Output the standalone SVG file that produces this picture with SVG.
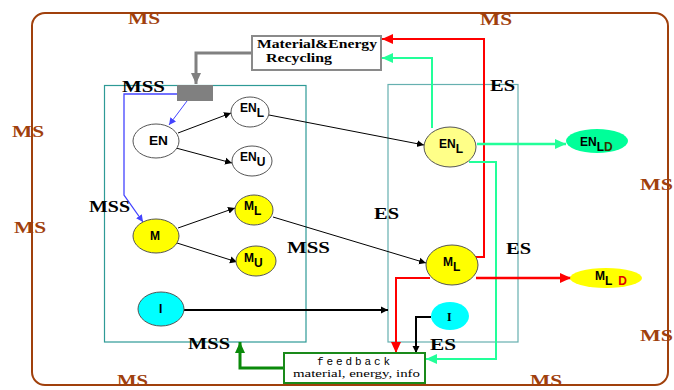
<svg xmlns="http://www.w3.org/2000/svg" width="674" height="390" viewBox="0 0 674 390">
<style>
.ms{font-family:"Liberation Serif",serif;font-weight:bold;font-size:17px;fill:#a0400c}
.lab{font-family:"Liberation Serif",serif;font-weight:bold;font-size:17px;fill:#000}
.nt{font-family:"Liberation Sans",Arial,sans-serif;font-weight:bold;font-size:12px;fill:#000}
.node{stroke:#555;stroke-width:1}
.blk{stroke:#000;stroke-width:1;fill:none}
</style>
<defs>
<marker id="ab" markerWidth="8" markerHeight="8" refX="7" refY="4" orient="auto" markerUnits="userSpaceOnUse"><path d="M0,0.5 L7,4 L0,7.5 Z" fill="#000"/></marker>
<marker id="ar" markerWidth="12" markerHeight="12" refX="11" refY="6" orient="auto" markerUnits="userSpaceOnUse"><path d="M0,1 L11,6 L0,11 Z" fill="#f00"/></marker>
<marker id="ag" markerWidth="12" markerHeight="12" refX="11" refY="6" orient="auto" markerUnits="userSpaceOnUse"><path d="M0,1 L11,6 L0,11 Z" fill="#22ff99"/></marker>
<marker id="adg" markerWidth="12" markerHeight="12" refX="11" refY="6" orient="auto" markerUnits="userSpaceOnUse"><path d="M0,1 L11,6 L0,11 Z" fill="#0a8a0a"/></marker>
<marker id="agr" markerWidth="12" markerHeight="12" refX="11" refY="6" orient="auto" markerUnits="userSpaceOnUse"><path d="M0,1 L11,6 L0,11 Z" fill="#808080"/></marker>
<marker id="abl" markerWidth="8" markerHeight="8" refX="7" refY="4" orient="auto" markerUnits="userSpaceOnUse"><path d="M0,0.5 L7,4 L0,7.5 Z" fill="#4444ff"/></marker>
</defs>
<rect width="674" height="390" fill="#fff"/>

<g id="boundary-MS">
<rect x="32" y="13" width="636" height="372" rx="13" ry="13" fill="none" stroke="#a0400c" stroke-width="2"/>
<text class="ms" x="128" y="24" textLength="32" lengthAdjust="spacingAndGlyphs">MS</text>
<text class="ms" x="480" y="25" textLength="32" lengthAdjust="spacingAndGlyphs">MS</text>
<text class="ms" x="12" y="137" textLength="32" lengthAdjust="spacingAndGlyphs">MS</text>
<text class="ms" x="14" y="233" textLength="32" lengthAdjust="spacingAndGlyphs">MS</text>
<text class="ms" x="640" y="190" textLength="33" lengthAdjust="spacingAndGlyphs">MS</text>
<text class="ms" x="640" y="341" textLength="33" lengthAdjust="spacingAndGlyphs">MS</text>
<text class="ms" x="117" y="386" textLength="31" lengthAdjust="spacingAndGlyphs">MS</text>
<text class="ms" x="530" y="386" textLength="32" lengthAdjust="spacingAndGlyphs">MS</text>
</g>

<g id="MSS-box">
<rect x="104.5" y="85.5" width="201.5" height="256.5" fill="none" stroke="#2e9a96" stroke-width="1.2"/>
</g>
<g id="ES-box">
<rect x="388" y="84.5" width="130" height="257.5" fill="none" stroke="#66b0b0" stroke-width="1.2"/>
</g>

<g id="connectors">
<path d="M252,53 H196 V84" fill="none" stroke="#808080" stroke-width="3" marker-end="url(#agr)"/>
<path d="M177,94 H124 V195 L143,222" fill="none" stroke="#4444ff" stroke-width="1.3" marker-end="url(#abl)"/>
<path d="M187,101 L169,125" fill="none" stroke="#4444ff" stroke-width="1" marker-end="url(#abl)"/>
<path d="M178,133 L231,113" class="blk" marker-end="url(#ab)"/>
<path d="M176,148 L232,163" class="blk" marker-end="url(#ab)"/>
<path d="M269,115 L424,145" class="blk" marker-end="url(#ab)"/>
<path d="M178,228 L235,208" class="blk" marker-end="url(#ab)"/>
<path d="M177,243 L237,262" class="blk" marker-end="url(#ab)"/>
<path d="M273,217 L426,263" class="blk" marker-end="url(#ab)"/>
<path d="M184,310 H388" fill="none" stroke="#000" stroke-width="2" marker-end="url(#ab)"/>
<path d="M474,257 H484 V39 H382" fill="none" stroke="#f00" stroke-width="2" marker-end="url(#ar)"/>
<path d="M432,128 V58 H382" fill="none" stroke="#22ff99" stroke-width="2" marker-end="url(#ag)"/>
<path d="M469,162 H496 V359 H426" fill="none" stroke="#22ff99" stroke-width="2" marker-end="url(#ag)"/>
<path d="M477,144 H566" fill="none" stroke="#22ff99" stroke-width="2.5" marker-end="url(#ag)"/>
<path d="M430,278 H396 V353" fill="none" stroke="#f00" stroke-width="2" marker-end="url(#ar)"/>
<path d="M476,278 H571" fill="none" stroke="#f00" stroke-width="2.5" marker-end="url(#ar)"/>
<path d="M431,317 H416 V353" fill="none" stroke="#000" stroke-width="2" marker-end="url(#ab)"/>
<path d="M284,368 H240 V342" fill="none" stroke="#0a8a0a" stroke-width="3" marker-end="url(#adg)"/>
<path d="M381,39 V58" fill="none" stroke="#3333ff" stroke-width="1"/>
</g>

<g id="recycling">
<rect x="252" y="36" width="129" height="34" fill="#fff" stroke="#8a8a8a" stroke-width="2"/>
<text x="257" y="48" font-family="Liberation Serif,serif" font-weight="bold" font-size="13" textLength="120" lengthAdjust="spacingAndGlyphs">Material&amp;Energy</text>
<text x="266" y="62" font-family="Liberation Serif,serif" font-weight="bold" font-size="13" textLength="66" lengthAdjust="spacingAndGlyphs">Recycling</text>
</g>

<g id="splitter">
<rect x="177" y="85" width="36" height="16" fill="#808080"/>
</g>

<g id="EN">
<ellipse class="node" cx="156" cy="141" rx="23" ry="17" fill="#fff"/>
<text class="nt" x="149" y="145" textLength="19" lengthAdjust="spacingAndGlyphs">EN</text>
</g>
<g id="ENL">
<ellipse class="node" cx="250" cy="112" rx="19" ry="15" fill="#fff"/>
<text class="nt" x="240" y="112">EN<tspan dy="5">L</tspan></text>
</g>
<g id="ENU">
<ellipse class="node" cx="252" cy="161" rx="20" ry="15" fill="#fff"/>
<text class="nt" x="240" y="161">EN<tspan dy="5">U</tspan></text>
</g>
<g id="M">
<ellipse class="node" cx="156" cy="236" rx="23" ry="17" fill="#ffff00"/>
<text class="nt" x="150" y="240" font-size="11">M</text>
</g>
<g id="ML">
<ellipse class="node" cx="254" cy="210" rx="19" ry="15" fill="#ffff00"/>
<text class="nt" x="244" y="210" font-size="11">M<tspan dy="5">L</tspan></text>
</g>
<g id="MU">
<ellipse class="node" cx="256" cy="261" rx="20" ry="15" fill="#ffff00"/>
<text class="nt" x="244" y="262" font-size="11">M<tspan dy="5">U</tspan></text>
</g>
<g id="I-left">
<ellipse class="node" cx="161" cy="309" rx="23" ry="17" fill="#00ffff"/>
<text class="nt" x="159" y="313" font-size="11">I</text>
</g>
<g id="ENL-right">
<ellipse class="node" cx="450" cy="147" rx="26" ry="20" fill="#ffff88"/>
<text class="nt" x="439" y="148">EN<tspan dy="5">L</tspan></text>
</g>
<g id="ENLD">
<ellipse cx="597" cy="141" rx="31" ry="12" fill="#00ff99"/>
<text class="nt" x="580" y="146">EN<tspan dy="5">L</tspan><tspan fill="#333300">D</tspan></text>
</g>
<g id="ML-right">
<ellipse class="node" cx="452" cy="265" rx="26" ry="20" fill="#ffff00"/>
<text class="nt" x="443" y="266" font-size="11">M<tspan dy="5">L</tspan></text>
</g>
<g id="MLD">
<ellipse cx="606" cy="278" rx="36" ry="10" fill="#ffff00"/>
<text class="nt" x="595" y="280" font-size="11">M<tspan dy="5">L</tspan><tspan dx="6" fill="#e00000">D</tspan></text>
</g>
<g id="I-right">
<ellipse cx="450" cy="316" rx="19" ry="14" fill="#00ffff"/>
<text x="447" y="321" font-family="Liberation Serif,serif" font-weight="bold" font-size="12">I</text>
</g>

<g id="feedback">
<rect x="284" y="353" width="141" height="30" fill="#fff" stroke="#1a8a1a" stroke-width="2"/>
<text x="317" y="365" font-family="Liberation Mono,monospace" font-size="11" textLength="73" lengthAdjust="spacing">feedback</text>
<text x="293" y="377" font-family="Liberation Serif,serif" font-size="11" textLength="127" lengthAdjust="spacingAndGlyphs">material, energy, info</text>
</g>

<g id="labels">
<text class="lab" x="122" y="92" textLength="43" lengthAdjust="spacingAndGlyphs">MSS</text>
<text class="lab" x="89" y="212" textLength="41" lengthAdjust="spacingAndGlyphs">MSS</text>
<text class="lab" x="287" y="253" textLength="43" lengthAdjust="spacingAndGlyphs">MSS</text>
<text class="lab" x="188" y="349" textLength="42" lengthAdjust="spacingAndGlyphs">MSS</text>
<text class="lab" x="490" y="91" textLength="25" lengthAdjust="spacingAndGlyphs">ES</text>
<text class="lab" x="374" y="219" textLength="25" lengthAdjust="spacingAndGlyphs">ES</text>
<text class="lab" x="506" y="254" textLength="25" lengthAdjust="spacingAndGlyphs">ES</text>
<text class="lab" x="430" y="350" textLength="26" lengthAdjust="spacingAndGlyphs">ES</text>
</g>
</svg>
